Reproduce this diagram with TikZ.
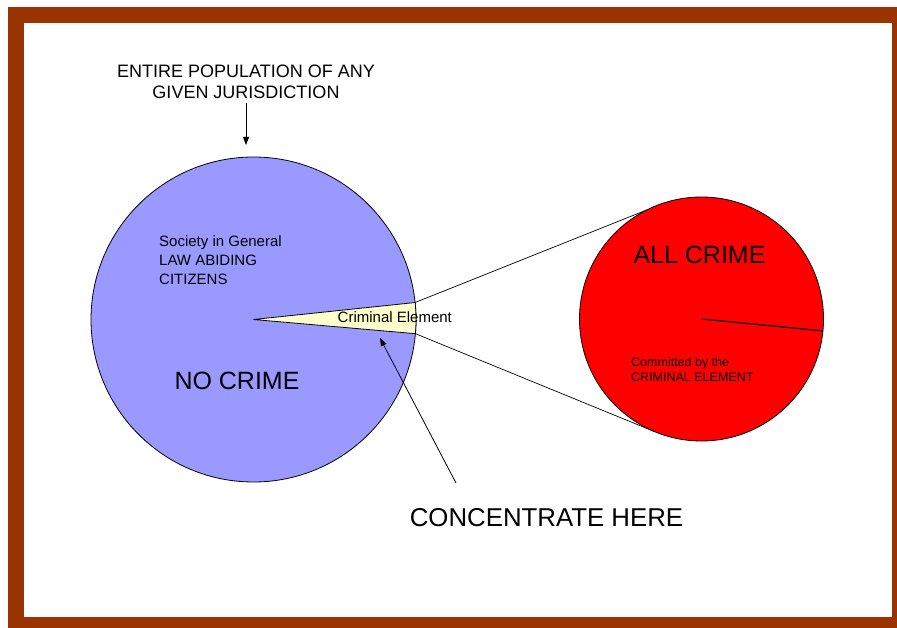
\documentclass[tikz,border=0pt]{standalone}
\usepackage{fontspec}
\setmainfont{Liberation Sans}
\usetikzlibrary{arrows.meta,calc}
\definecolor{framec}{HTML}{993300}
\definecolor{popc}{HTML}{9999FF}
\definecolor{wedgec}{HTML}{FFFFCC}
\definecolor{crimec}{HTML}{FF0000}
\tikzset{
  big/.style={font=\fontsize{25}{29}\selectfont, inner sep=0pt},
  bigger/.style={font=\fontsize{25.8}{29}\selectfont, inner sep=0pt},
  mid/.style={font=\fontsize{18}{21}\selectfont, inner sep=0pt, align=center},
  small/.style={font=\fontsize{15}{19}\selectfont, inner sep=0pt, align=left},
  tiny/.style={font=\fontsize{12.5}{14.4}\selectfont, inner sep=0pt, align=left},
  arr/.style={-{Triangle[length=8pt,width=6pt]}, line width=0.8pt},
  thin line/.style={line width=0.7pt},
}
\begin{document}
\begin{tikzpicture}[x=1pt,y=-1pt]
\useasboundingbox (0,0) rectangle (897,628);
\fill[framec] (8,7) rectangle (897,628);
\fill[white] (24,23) rectangle (892,617);

% population circle
\node[circle, minimum size=325pt, inner sep=0pt, fill=popc, draw, line width=0.8pt] (pop) at (253.5,319.5) {};
% wedge
\coordinate (w1) at ($(pop.center)+(-6:162.5)$);
\coordinate (w2) at ($(pop.center)+(5:162.5)$);
\draw[fill=wedgec, line width=0.8pt] (pop.center) -- (w1) arc[start angle=-6, end angle=5, radius=162.5] -- cycle;

% crime circle
\node[circle, minimum size=244pt, inner sep=0pt, fill=crimec, draw, line width=0.8pt] (crime) at (701.5,319) {};
\coordinate (c1) at ($(crime.center)+(-116.6:122)$);
\coordinate (c2) at ($(crime.center)+(112.4:122)$);
\coordinate (c3) at ($(crime.center)+(5.6:122)$);
\draw[thin line] (w1) -- (c1);
\draw[thin line] (w2) -- (c2);
\draw[line width=1.2pt] (crime.center) -- (c3);

% texts
\node[mid, anchor=north] (title) at (246,65) {ENTIRE POPULATION OF ANY\\GIVEN JURISDICTION};
\node[small, anchor=north west] (society) at (159,235) {Society in General\\LAW ABIDING\\CITIZENS};
\node[big, anchor=base] (nocrime) at (237,389.3) {NO CRIME};
\node[small, anchor=base west] (crimel) at (337.5,322.7) {Criminal Element};
\node[big, anchor=base] (allcrime) at (699.5,263.3) {ALL CRIME};
\node[tiny, anchor=north west] (committed) at (631,357.7) {Committed by the\\CRIMINAL ELEMENT};
\node[bigger, anchor=base] (conc) at (546.5,526) {CONCENTRATE HERE};

% arrows
\coordinate (t1) at (246,103);
\coordinate (t2) at (246,145);
\draw[arr] (t1) -- (t2);
\coordinate (h1) at (456,483);
\coordinate (h2) at (380,338);
\draw[arr] (h1) -- (h2);
\end{tikzpicture}
\end{document}
